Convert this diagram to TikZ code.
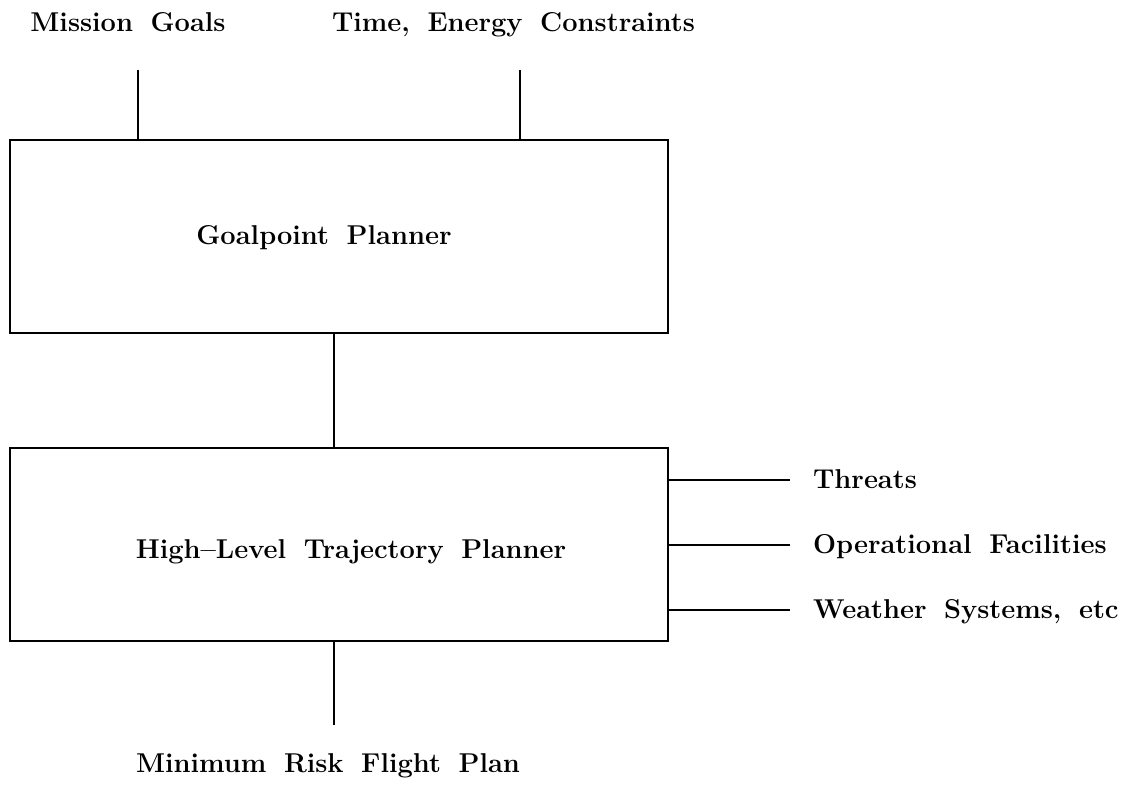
\documentclass[tikz,border=0pt]{standalone}
\usepackage{tikz}
\usetikzlibrary{positioning}

\newcommand{\lblfont}{\fontsize{15.5}{18}\selectfont\bfseries\spaceskip=10pt plus 2pt minus 1pt\relax}

\tikzset{
  planner/.style={draw, minimum width=13.16cm, minimum height=3.86cm, inner sep=0pt},
  lbl/.style={font=\lblfont, inner sep=0pt, anchor=base},
}

\begin{document}
\begin{tikzpicture}[line width=1.3pt]
\useasboundingbox (0,0) rectangle (22.5,15.78);

\node[planner] (gp) at (6.78,11.05) {};
\node[planner] (htp) at (6.78,4.89) {};
\node[lbl] (gptext) at (6.48,10.9) {Goalpoint Planner};
\node[lbl] (htptext) at (7.02,4.62) {High--Level Trajectory Planner};

% inputs on top
\node[lbl] (goals) at (2.56,15.14) {Mission Goals};
\node[lbl] (constr) at (10.27,15.14) {Time, Energy Constraints};
\coordinate (goalsend) at (2.76,14.38);
\coordinate (constrend) at (10.4,14.38);
\draw (goalsend) -- (goalsend |- gp.north);
\draw (constrend) -- (constrend |- gp.north);

% between the planners
\coordinate (mid) at (6.68,9);
\draw (mid |- gp.south) -- (mid |- htp.north);

% inputs on the right
\node[lbl, anchor=base west] (threats) at (16.24,6.02) {Threats};
\node[lbl, anchor=base west] (facil) at (16.24,4.72) {Operational Facilities};
\node[lbl, anchor=base west] (weather) at (16.24,3.42) {Weather Systems, etc};
\coordinate (threatsend) at (15.8,6.18);
\coordinate (facilend) at (15.8,4.88);
\coordinate (weatherend) at (15.8,3.58);
\draw (threatsend -| htp.east) -- (threatsend);
\draw (facilend -| htp.east) -- (facilend);
\draw (weatherend -| htp.east) -- (weatherend);

% output
\node[lbl] (plan) at (6.56,0.34) {Minimum Risk Flight Plan};
\coordinate (planend) at (6.68,1.28);
\draw (planend |- htp.south) -- (planend);
\end{tikzpicture}
\end{document}
